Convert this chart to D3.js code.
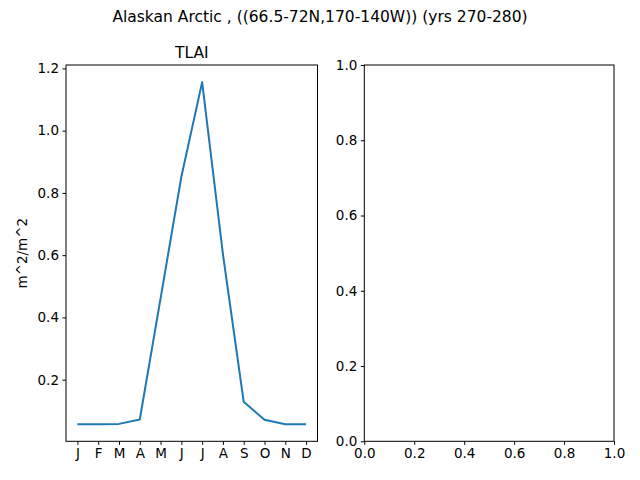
<!DOCTYPE html>
<html>
<head>
<meta charset="utf-8">
<script src="https://cdn.jsdelivr.net/npm/d3@7"></script>
<style>
  body { margin: 0; background: #fff; }
  text { font-family: "DejaVu Sans", sans-serif; fill: #000; }
</style>
</head>
<body>
<div id="chart-area"></div>
<script>
const months = ["J", "F", "M", "A", "M", "J", "J", "A", "S", "O", "N", "D"];
const tlai = [0.057, 0.057, 0.058, 0.072, 0.461, 0.852, 1.156, 0.603, 0.129, 0.071, 0.057, 0.057];
const leftTicks = [0.2, 0.4, 0.6, 0.8, 1.0, 1.2];
const rightTicks = [0.0, 0.2, 0.4, 0.6, 0.8, 1.0];

const svg = d3.select("#chart-area").append("svg")
    .attr("width", 640)
    .attr("height", 480);

svg.append("text")
    .attr("x", 320)
    .attr("y", 22)
    .attr("text-anchor", "middle")
    .style("font-size", "15.5px")
    .text("Alaskan Arctic , ((66.5-72N,170-140W)) (yrs 270-280)");

// left panel
const axTop = 65, axBottom = 441.3;
const lx0 = 66, lx1 = 317.5;

const x = d3.scaleLinear().domain([-0.55, 11.55]).range([lx0, lx1]);
const ymin = d3.min(tlai), ymax = d3.max(tlai);
const pad = (ymax - ymin) * 0.05;
const y = d3.scaleLinear().domain([ymin - pad, ymax + pad]).range([axBottom, axTop]);

const gl = svg.append("g");

gl.append("g")
    .attr("transform", `translate(0,${axBottom})`)
    .call(d3.axisBottom(x).tickValues(d3.range(12)).tickFormat(i => months[i]).tickSize(3.5).tickPadding(3.5))
    .call(g => g.select(".domain").remove());

gl.append("g")
    .attr("transform", `translate(${lx0},0)`)
    .call(d3.axisLeft(y).tickValues(leftTicks).tickFormat(d3.format(".1f")).tickSize(3.5).tickPadding(3.5))
    .call(g => g.select(".domain").remove());

gl.append("path")
    .datum(tlai)
    .attr("fill", "none")
    .attr("stroke", "#1f77b4")
    .attr("stroke-width", 2)
    .attr("stroke-linejoin", "round")
    .attr("d", d3.line().x((d, i) => x(i)).y(d => y(d)));

gl.append("rect")
    .attr("x", lx0).attr("y", axTop)
    .attr("width", lx1 - lx0).attr("height", axBottom - axTop)
    .attr("fill", "none").attr("stroke", "#000").attr("stroke-width", 1);

gl.append("text")
    .attr("x", (lx0 + lx1) / 2)
    .attr("y", axTop - 7)
    .attr("text-anchor", "middle")
    .style("font-size", "15.5px")
    .text("TLAI");

gl.append("text")
    .attr("transform", `translate(27,${(axTop + axBottom) / 2}) rotate(-90)`)
    .attr("text-anchor", "middle")
    .style("font-size", "13.5px")
    .text("m^2/m^2");

// right panel (empty)
const rx0 = 364.3, rx1 = 614;
const x2 = d3.scaleLinear().domain([0, 1]).range([rx0, rx1]);
const y2 = d3.scaleLinear().domain([0, 1]).range([axBottom, axTop]);

const gr = svg.append("g");

gr.append("g")
    .attr("transform", `translate(0,${axBottom})`)
    .call(d3.axisBottom(x2).tickValues(rightTicks).tickFormat(d3.format(".1f")).tickSize(3.5).tickPadding(3.5))
    .call(g => g.select(".domain").remove());

gr.append("g")
    .attr("transform", `translate(${rx0},0)`)
    .call(d3.axisLeft(y2).tickValues(rightTicks).tickFormat(d3.format(".1f")).tickSize(3.5).tickPadding(3.5))
    .call(g => g.select(".domain").remove());

gr.append("rect")
    .attr("x", rx0).attr("y", axTop)
    .attr("width", rx1 - rx0).attr("height", axBottom - axTop)
    .attr("fill", "none").attr("stroke", "#000").attr("stroke-width", 1);

svg.selectAll(".tick text")
    .style("font-family", "DejaVu Sans, sans-serif")
    .style("font-size", "13.5px")
    .attr("fill", "#000");
svg.selectAll(".tick line").attr("stroke", "#000").attr("stroke-width", 1);
</script>
</body>
</html>
